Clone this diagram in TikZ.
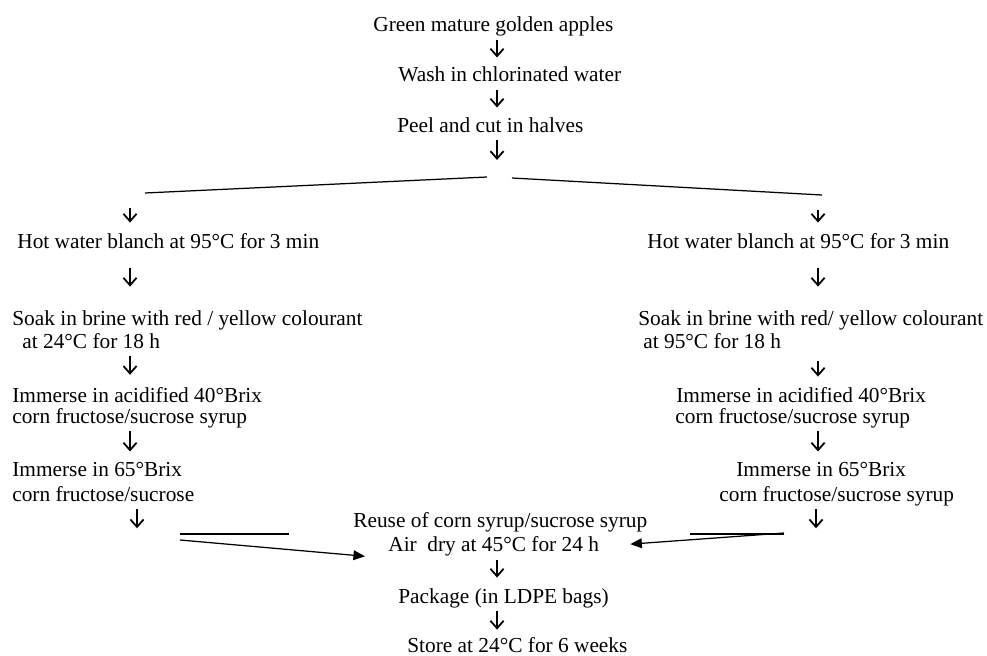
\documentclass[tikz,border=0pt]{standalone}
\usepackage{fontspec}
\setmainfont{Liberation Serif}
\usetikzlibrary{arrows.meta}

\newcommand{\stepfont}{\fontsize{12}{13}\selectfont}

\begin{document}
\begin{tikzpicture}[x=0.5625pt,y=-0.5625pt,
    txt/.style={inner sep=0pt,anchor=base west,font=\stepfont,execute at begin node=\strut},
    flow/.style={line width=1pt,-{Straight Barb[length=4.2pt,width=7.4pt]},shorten <=0.6pt,shorten >=4.5pt},
    fork/.style={line width=0.7pt},
    bar/.style={line width=1.1pt},
    feed/.style={line width=0.7pt,-{Triangle[length=6.5pt,width=5.5pt]}}]
  \useasboundingbox (0,0) rectangle (987,655);
  % arrow columns
  \coordinate (cx) at (497,0);
  \coordinate (lx) at (130,0);
  \coordinate (lx5) at (137,0);
  \coordinate (rx) at (818,0);
  \coordinate (rx5) at (816,0);
  % common steps
  \node[txt] (green) at (373,32) {Green mature golden apples};
  \node[txt] (wash) at (398,82) {Wash in chlorinated water};
  \node[txt] (peel) at (397,132) {Peel and cut in halves};
  \draw[flow] (green.south -| cx) -- (wash.north -| cx);
  \draw[flow] (wash.south -| cx) -- (peel.north -| cx);
  % fork
  \coordinate (forkL) at (487,177);
  \coordinate (forkR) at (512,178);
  \coordinate (fork) at (497,177);
  \coordinate (endL) at (145,193);
  \coordinate (endR) at (822,195);
  \draw[flow,shorten >=9.6pt] (peel.south -| cx) -- (fork);
  \draw[fork] (endL) -- (forkL);
  \draw[fork] (forkR) -- (endR);
  % left branch
  \node[txt] (hotL) at (17,248) {Hot water blanch at 95°C for 3 min};
  \node[txt] (soakL1) at (12,325) {Soak in brine with red / yellow colourant};
  \node[txt] (soakL2) at (22,348) {at 24°C for 18 h};
  \node[txt] (immL1) at (12,402) {Immerse in acidified 40°Brix};
  \node[txt] (immL2) at (12,423) {corn fructose/sucrose syrup};
  \node[txt] (sixL1) at (12,476) {Immerse in 65°Brix};
  \node[txt] (sixL2) at (12,501) {corn fructose/sucrose};
  \draw[flow,shorten <=8.4pt,shorten >=5pt] (endL -| lx) -- (hotL.north -| lx);
  \draw[flow,shorten <=7.3pt,shorten >=12.3pt] (hotL.south -| lx) -- (soakL1.north -| lx);
  \draw[flow,shorten >=6pt] (soakL2.south -| lx) -- (immL1.north -| lx);
  \draw[flow] (immL2.south -| lx) -- (sixL1.north -| lx);
  \draw[flow,shorten >=0pt] (sixL2.south -| lx5) -- ++(0,20);
  % right branch
  \node[txt] (hotR) at (647,248) {Hot water blanch at 95°C for 3 min};
  \node[txt] (soakR1) at (638,325) {Soak in brine with red/ yellow colourant};
  \node[txt] (soakR2) at (643,348) {at 95°C for 18 h};
  \node[txt] (immR1) at (676,402) {Immerse in acidified 40°Brix};
  \node[txt] (immR2) at (675,423) {corn fructose/sucrose syrup};
  \node[txt] (sixR1) at (736,476) {Immerse in 65°Brix};
  \node[txt] (sixR2) at (719,501) {corn fructose/sucrose syrup};
  \draw[flow,shorten <=8.4pt,shorten >=5pt] (endR -| rx) -- (hotR.north -| rx);
  \draw[flow,shorten <=7.3pt,shorten >=12.3pt] (hotR.south -| rx) -- (soakR1.north -| rx);
  \draw[flow,shorten <=3pt,shorten >=5pt] (soakR2.south -| rx) -- (immR1.north -| rx);
  \draw[flow] (immR2.south -| rx) -- (sixR1.north -| rx);
  \draw[flow,shorten >=0pt] (sixR2.south -| rx5) -- ++(0,20);
  % joining
  \node[txt] (reuse) at (353,527) {Reuse of corn syrup/sucrose syrup};
  \node[txt] (air) at (388,551) {Air\ \ dry at 45°C for 24 h};
  \node[txt] (pack) at (398,603) {Package (in LDPE bags)};
  \node[txt] (store) at (407,652) {Store at 24°C for 6 weeks};
  \draw[bar] (180,534) -- (289,534);
  \draw[bar] (690,534) -- (784,534);
  \coordinate (feedL) at (180,540);
  \coordinate (feedR) at (784,533);
  \draw[feed,shorten >=13pt] (feedL) -- (air.south west);
  \draw[feed,shorten >=17.5pt] (feedR) -- (air.east);
  \draw[flow,shorten <=1.2pt,shorten >=5pt] (air.south -| cx) -- (pack.north -| cx);
  \draw[flow,shorten >=3.3pt] (pack.south -| cx) -- (store.north -| cx);
\end{tikzpicture}
\end{document}
